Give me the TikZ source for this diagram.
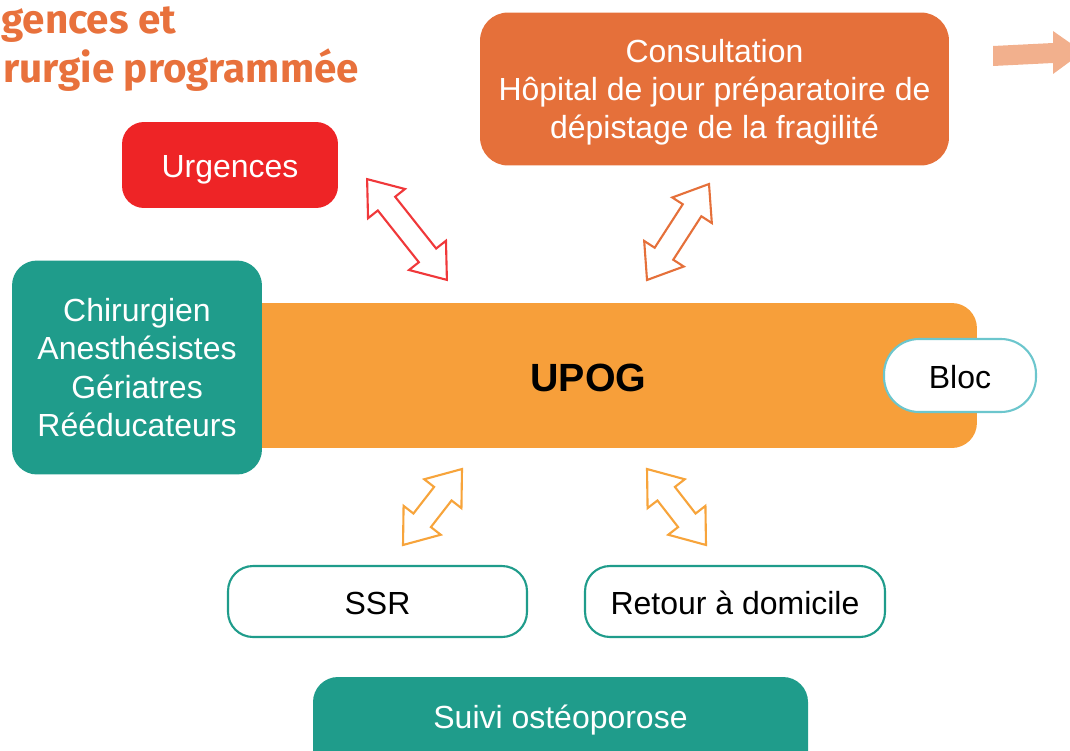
\documentclass[tikz,border=0pt]{standalone}
\usepackage{fontspec}
\setmainfont{Liberation Sans}
\newfontfamily\titlefont{Fira Sans}
\usetikzlibrary{calc,shapes.arrows}

\definecolor{upogorange}{HTML}{F79F3A}
\definecolor{consorange}{HTML}{E5703A}
\definecolor{urgred}{HTML}{EE2426}
\definecolor{arrowred}{HTML}{F0383A}
\definecolor{upogteal}{HTML}{1F9C8B}
\definecolor{bloccyan}{HTML}{6CC6CD}
\definecolor{titleorange}{HTML}{E8713C}
\definecolor{lightarrow}{HTML}{F2B08D}
\definecolor{ssrorange}{HTML}{F7A43B}

\newcommand{\boxfont}{\fontsize{18.2}{21.8}\selectfont}

\tikzset{
  fullbox/.style={rectangle, align=center, text=white, font=\boxfont, inner sep=0pt},
  linebox/.style={rectangle, align=center, text=black, font=\boxfont, inner sep=0pt,
    fill=white, line width=1.2pt},
  oneline/.style={text height=14.4pt, text depth=0pt},
  twoway/.style={double arrow, draw=#1, fill=white, line width=1.2pt, inner sep=0.2cm,
    minimum width=0pt, double arrow head extend=0.25cm, double arrow tip angle=74},
  titletext/.style={anchor=base west, inner sep=0pt, text=titleorange,
    font=\titlefont\bfseries\fontsize{23}{23}\selectfont}
}

\begin{document}
\begin{tikzpicture}[x=0.02cm, y={(0cm,-0.02cm)}]
  \path[use as bounding box] (0,0) rectangle (1070,750);
  \clip (0,0) rectangle (1070,750);

  \node[titletext] (title1) at (1,34) {gences et};
  \node[titletext] (title2) at (3,83) {rurgie programmée};

  \node[fullbox, oneline, fill=urgred, rounded corners=0.44cm, minimum width=4.32cm, minimum height=1.72cm] (urg) at (230,165) {Urgences};
  \node[fullbox, text depth=0pt, fill=consorange, rounded corners=0.56cm, minimum width=9.38cm, minimum height=3.06cm] (cons) at (714.5,89) {Consultation\\Hôpital de jour préparatoire de\\dépistage de la fragilité};

  \node[fullbox, fill=upogorange, text=black, rounded corners=0.5cm, minimum width=15.54cm, minimum height=2.9cm,
    text height=17.8pt, text depth=0pt, font=\bfseries\fontsize{22.4}{26}\selectfont] (upog) at (588.5,375.5) {UPOG};
  \node[fullbox, fill=upogteal, rounded corners=0.5cm, minimum width=5cm, minimum height=4.28cm] (team) at (137,367.5) {Chirurgien\\Anesthésistes\\Gériatres\\Rééducateurs};
  \node[linebox, oneline, draw=bloccyan, rounded corners=0.7cm, minimum width=3.04cm, minimum height=1.46cm] (bloc) at (960,375.5) {Bloc};

  \node[linebox, oneline, draw=upogteal, rounded corners=0.5cm, minimum width=5.98cm, minimum height=1.42cm] (ssr) at (377.5,601.5) {SSR};
  \node[linebox, oneline, draw=upogteal, rounded corners=0.5cm, minimum width=6cm, minimum height=1.42cm] (home) at (735,601.5) {Retour à domicile};

  \fill[upogteal, rounded corners=0.5cm] (313,677) rectangle (808,800);
  \node[fullbox, oneline] (suivi) at (560.5,716) {Suivi ostéoporose};

  \fill[lightarrow] (993,46) -- (1053,43) -- (1053,31) -- (1083,52) -- (1053,74) -- (1053,63) -- (993,66) -- cycle;

  \coordinate (urgA) at (367,179);
  \coordinate (urgB) at (447,280);
  \coordinate (consA) at (647,280);
  \coordinate (consB) at (709,184);
  \coordinate (ssrA) at (403,545);
  \coordinate (ssrB) at (462,469);
  \coordinate (homeA) at (647,469);
  \coordinate (homeB) at (706,545);

  \path let \p1=(urgA), \p2=(urgB) in
    node[twoway=arrowred, minimum height={veclen(\x2-\x1,\y2-\y1)}, rotate={atan2(\y2-\y1,\x2-\x1)}] (urgarrow) at ($(urgA)!.5!(urgB)$) {};
  \path let \p1=(consA), \p2=(consB) in
    node[twoway=consorange, minimum height={veclen(\x2-\x1,\y2-\y1)}, rotate={atan2(\y2-\y1,\x2-\x1)}] (consarrow) at ($(consA)!.5!(consB)$) {};
  \path let \p1=(ssrA), \p2=(ssrB) in
    node[twoway=ssrorange, minimum height={veclen(\x2-\x1,\y2-\y1)}, rotate={atan2(\y2-\y1,\x2-\x1)}] (ssrarrow) at ($(ssrA)!.5!(ssrB)$) {};
  \path let \p1=(homeA), \p2=(homeB) in
    node[twoway=ssrorange, minimum height={veclen(\x2-\x1,\y2-\y1)}, rotate={atan2(\y2-\y1,\x2-\x1)}] (homearrow) at ($(homeA)!.5!(homeB)$) {};
\end{tikzpicture}
\end{document}
